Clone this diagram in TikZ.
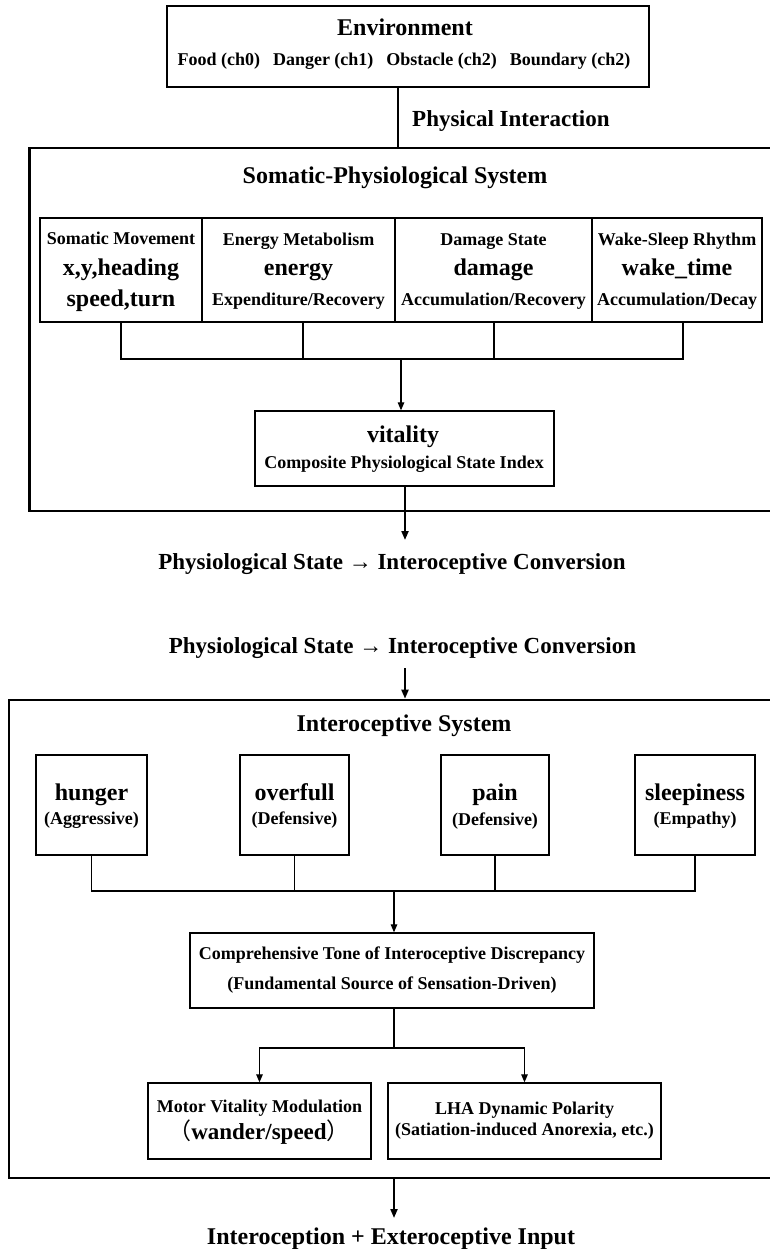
\documentclass[tikz,border=0pt]{standalone}
\usepackage{fontspec}
\setmainfont{Liberation Serif}
\newfontfamily\cjkf{Noto Sans CJK SC}
\usetikzlibrary{arrows.meta}
\begin{document}
\begin{tikzpicture}[x=1pt,y=-1pt,
  outer/.style={draw, line width=2.6pt, inner sep=0pt},
  box/.style={draw, line width=1.3pt, inner sep=0pt},
  s18/.style={anchor=base, inner sep=0pt, font=\bfseries\fontsize{18}{20}\selectfont},
  s23/.style={anchor=base, inner sep=0pt, font=\bfseries\fontsize{23}{25}\selectfont},
  s24/.style={anchor=base, inner sep=0pt, font=\bfseries\fontsize{24}{26}\selectfont},
  conn/.style={line width=1.2pt},
  arr/.style={line width=1.2pt, -{Triangle[length=8pt,width=6.5pt]}},
  tarr/.style={line width=2pt, -{Triangle[length=9pt,width=7pt]}}]
\useasboundingbox (0,0) rectangle (770,1249);
% Environment
\node[outer, minimum width=482pt, minimum height=81pt] (env) at (408,46.5) {};
\node[s24] (envt) at (405,36) {Environment};
\node[s18] (envs) at (404,66) {Food (ch0)\hspace{13pt}Danger (ch1)\hspace{13pt}Obstacle (ch2)\hspace{13pt}Boundary (ch2)};
\node[s23, anchor=base west] (pint) at (412,127) {Physical Interaction};
% Somatic system
\node[outer, minimum width=746.5pt, minimum height=363pt] (soma) at (402.75,329.5) {};
\draw[line width=2pt] ([xshift=-10pt]env.south) -- ([xshift=-10pt]env.south |- soma.north);
\node[s24] (somt) at (395,184) {Somatic-Physiological System};
\node[box, minimum width=162pt, minimum height=104pt] (c1) at (121,270) {};
\node[box, minimum width=193pt, minimum height=104pt] (c2) at (298.5,270) {};
\node[box, minimum width=197pt, minimum height=104pt] (c3) at (493.5,270) {};
\node[box, minimum width=170pt, minimum height=104pt] (c4) at (677,270) {};
\node[s18] (c1a) at (121,244) {Somatic Movement};
\node[s24] (c1b) at (121,276) {x,y,heading};
\node[s24] (c1c) at (121,306) {speed,turn};
\node[s18] (c2a) at (298.5,245) {Energy Metabolism};
\node[s24] (c2b) at (298.5,276) {energy};
\node[s18] (c2c) at (298.5,305) {Expenditure/Recovery};
\node[s18] (c3a) at (493.5,245) {Damage State};
\node[s24] (c3b) at (493.5,276) {damage};
\node[s18] (c3c) at (493.5,305) {Accumulation/Recovery};
\node[s18] (c4a) at (677,245) {Wake-Sleep Rhythm};
\node[s24] (c4b) at (677,276) {wake\_time};
\node[s18] (c4c) at (677,305) {Accumulation/Decay};
\node[box, minimum width=299pt, minimum height=75pt] (vit) at (404.5,448.5) {};
\node[s24] (vita) at (403,442) {vitality};
\node[s18] (vitb) at (404,468) {Composite Physiological State Index};
\coordinate (sb) at (401,359);
\draw[conn] (c1.south) -- (c1.south |- sb) -| ([xshift=6pt]c4.south);
\draw[conn] ([xshift=4.5pt]c2.south) -- ([xshift=4.5pt]c2.south |- sb);
\draw[conn] ([xshift=0.5pt]c3.south) -- ([xshift=0.5pt]c3.south |- sb);
\draw[arr] (sb) -- (sb |- vit.north);
\coordinate (p1) at (405,540);
\draw[tarr] (vit.south -| p1) -- (p1);
\node[s23] (l1) at (392,569) {Physiological State → Interoceptive Conversion};
\node[s23] (l2) at (402.5,653) {Physiological State → Interoceptive Conversion};
% Interoceptive system
\node[outer, minimum width=767pt, minimum height=478pt] (intero) at (392.5,939) {};
\coordinate (p2) at (405,668);
\draw[tarr] (p2) -- (p2 |- intero.north);
\node[s24] (intt) at (404,731) {Interoceptive System};
\node[box, minimum width=111pt, minimum height=100pt] (b1) at (91.5,805) {};
\node[box, minimum width=109pt, minimum height=100pt] (b2) at (294.5,805) {};
\node[box, minimum width=108pt, minimum height=100pt] (b3) at (495,805) {};
\node[box, minimum width=120pt, minimum height=100pt] (b4) at (695,805) {};
\node[s24] (b1a) at (91.5,800) {hunger};
\node[s18] (b1b) at (91.5,824) {(Aggressive)};
\node[s24] (b2a) at (294.5,800) {overfull};
\node[s18] (b2b) at (294.5,824) {(Defensive)};
\node[s24] (b3a) at (495,800) {pain};
\node[s18] (b3b) at (495,825) {(Defensive)};
\node[s24] (b4a) at (695,800) {sleepiness};
\node[s18] (b4b) at (695,824) {(Empathy)};
\node[box, minimum width=404pt, minimum height=75pt] (comp) at (392,970.5) {};
\node[s18] (compa) at (392,959) {Comprehensive Tone of Interoceptive Discrepancy};
\node[s18] (compb) at (392,989) {(Fundamental Source of Sensation-Driven)};
\coordinate (ib) at (394,891);
\draw[conn] (b1.south) -- (b1.south |- ib) -- (b4.south |- ib) -- (b4.south);
\draw[conn] (b2.south) -- (b2.south |- ib);
\draw[conn] (b3.south) -- (b3.south |- ib);
\draw[arr] (ib) -- (ib |- comp.north);
\node[box, minimum width=223pt, minimum height=76pt] (motor) at (259.5,1121) {};
\node[box, minimum width=273pt, minimum height=76pt] (lha) at (524.5,1121) {};
\node[s18] (mota) at (259.5,1112) {Motor Vitality Modulation};
\node[s23] (motb) at (259,1139) {{\cjkf\mdseries （}wander/speed{\cjkf\mdseries ）}};
\node[s18] (lhaa) at (524.5,1114) {LHA Dynamic Polarity};
\node[s18] (lhab) at (524.5,1135) {(Satiation-induced Anorexia, etc.)};
\coordinate (cb) at (394,1048);
\draw[conn] (comp.south -| cb) -- (cb);
\draw[arr] (cb) -| (motor.north);
\draw[arr] (cb) -| (lha.north);
\coordinate (p3) at (394,1218);
\draw[tarr] (intero.south -| p3) -- (p3);
\node[s24] (fin) at (391,1244) {Interoception + Exteroceptive Input};
\end{tikzpicture}
\end{document}
